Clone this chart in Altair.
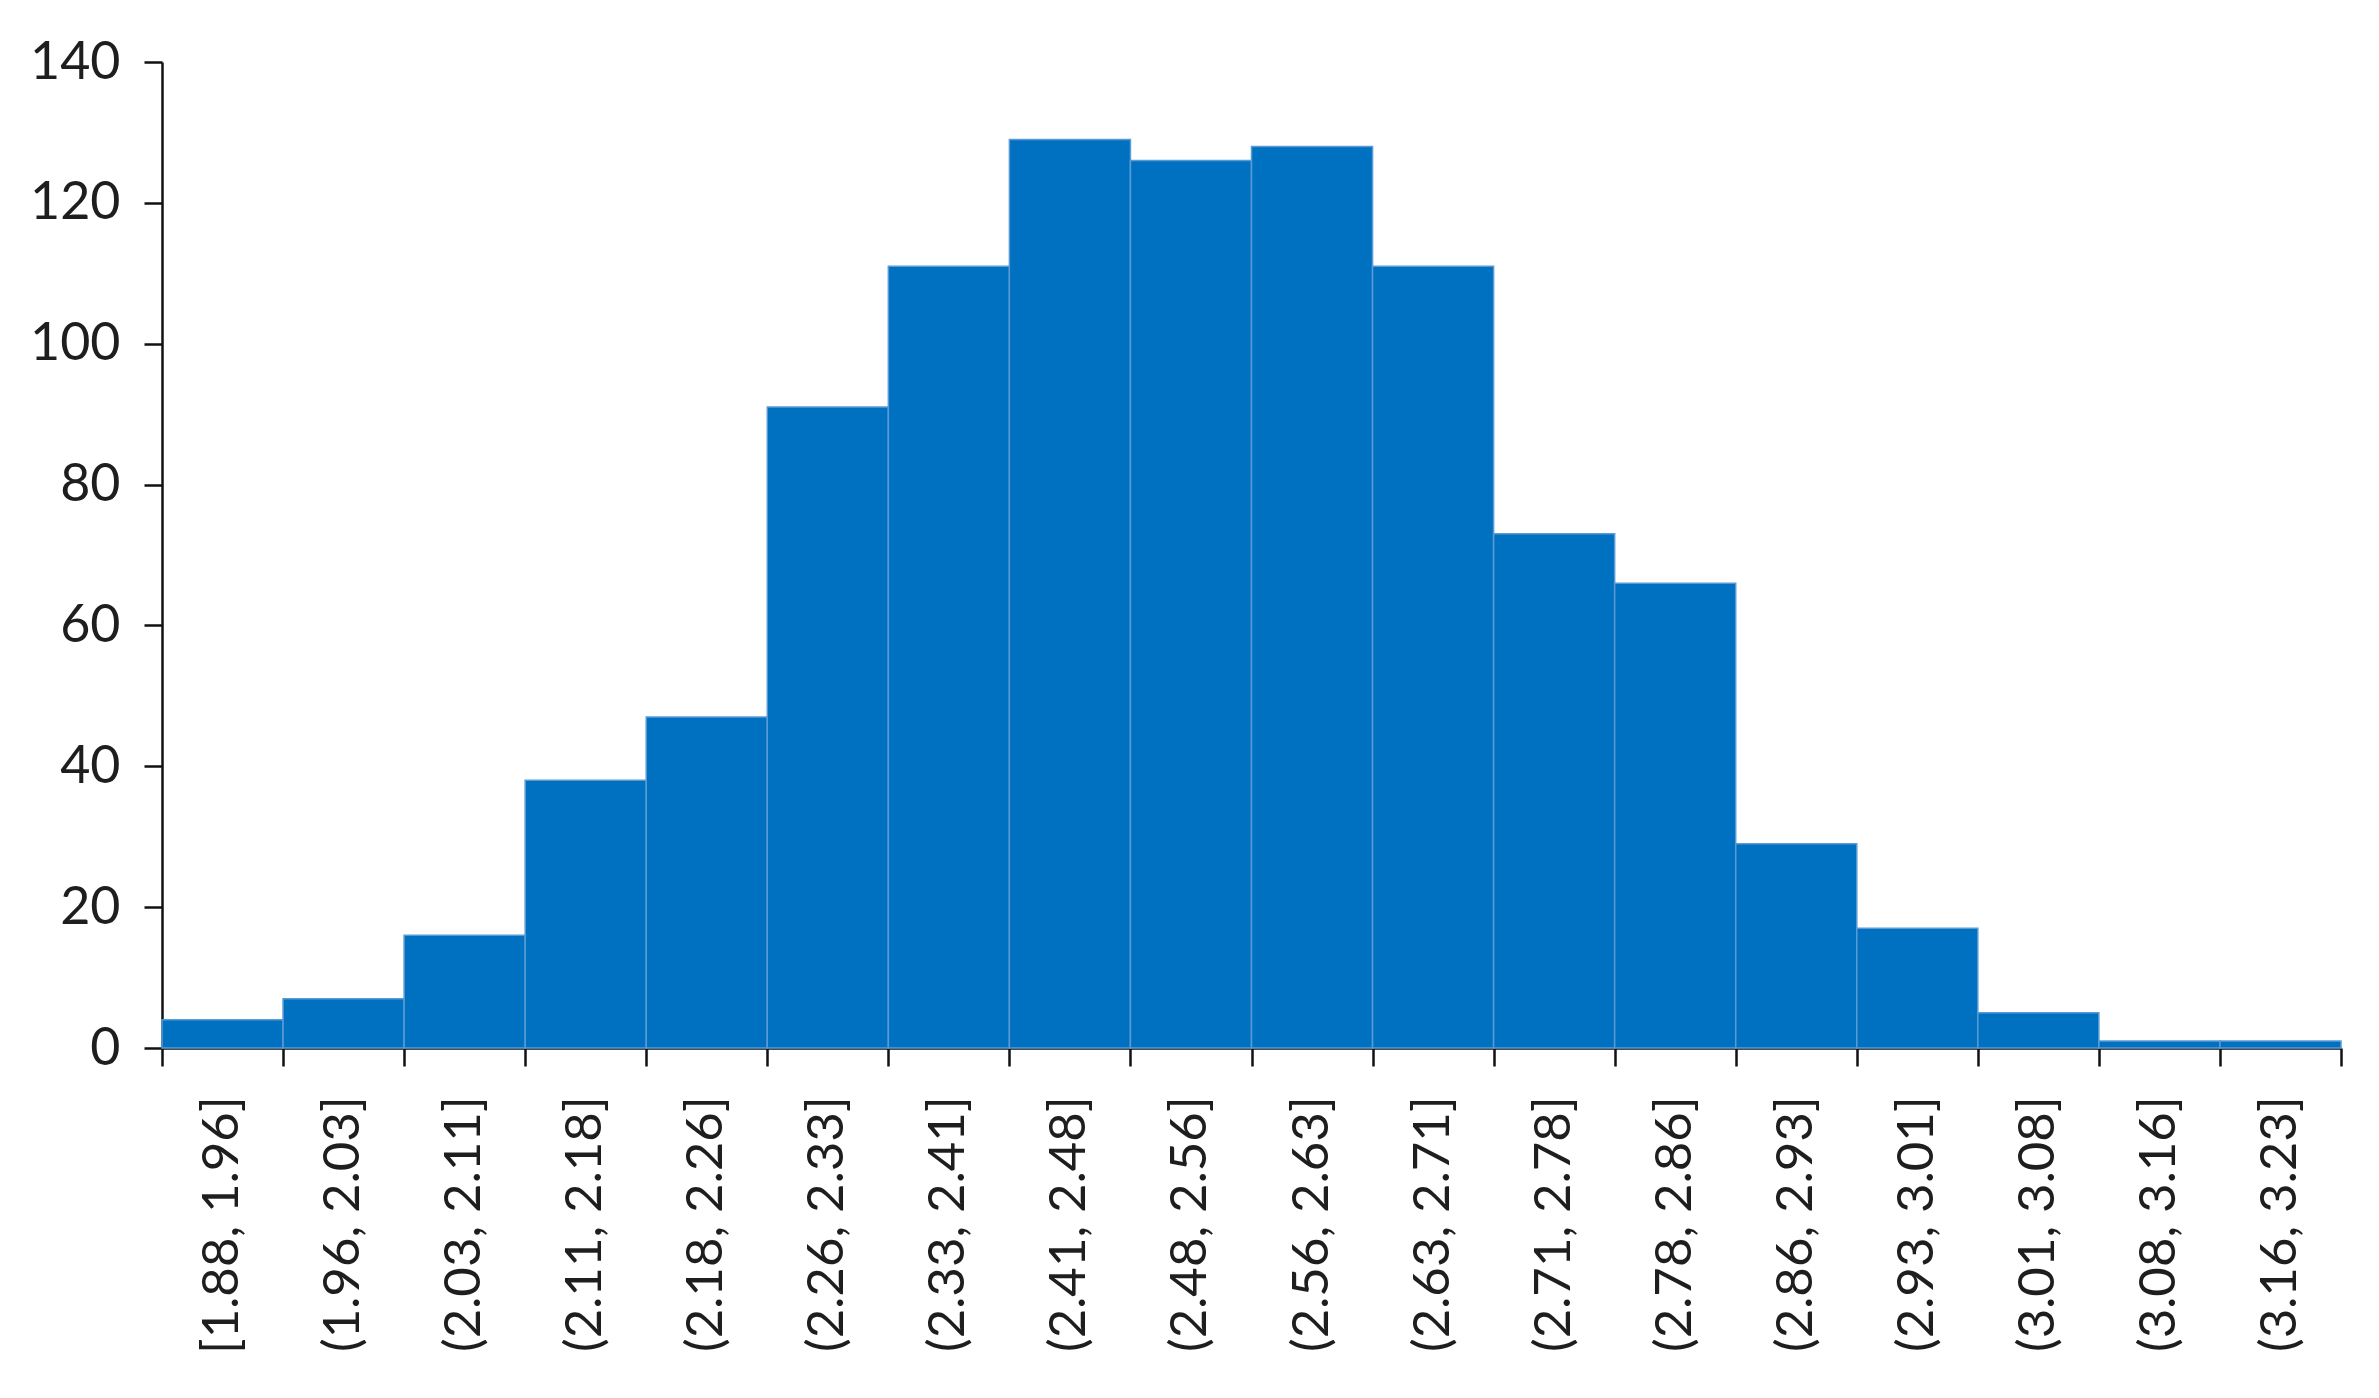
import json
import altair as alt
import pandas as pd

bin_labels = ["[1.88, 1.96]", "(1.96, 2.03]", "(2.03, 2.11]", "(2.11, 2.18]",
              "(2.18, 2.26]", "(2.26, 2.33]", "(2.33, 2.41]", "(2.41, 2.48]",
              "(2.48, 2.56]", "(2.56, 2.63]", "(2.63, 2.71]", "(2.71, 2.78]",
              "(2.78, 2.86]", "(2.86, 2.93]", "(2.93, 3.01]", "(3.01, 3.08]",
              "(3.08, 3.16]", "(3.16, 3.23]"]
counts = [4, 7, 16, 38, 47, 91, 111, 129, 126, 128, 111, 73, 66, 29, 17, 5, 1, 1]
y_ticks = [0, 20, 40, 60, 80, 100, 120, 140]

n = len(bin_labels)
df = pd.DataFrame({
    "start": list(range(n)),
    "end": [i + 1 for i in range(n)],
    "count": counts,
    "label": bin_labels,
})

label_expr = ("datum.value % 1 != 0 ? " + json.dumps(bin_labels)
              + "[floor(datum.value)] : ''")
x_values = [i * 0.5 for i in range(2 * n + 1)]

font = "Lato"
txt = "#1e1e1e"

chart = alt.Chart(df).mark_bar(
    color="#0070C0", stroke="#5B9BD5", strokeWidth=1.5
).encode(
    x=alt.X("start:Q",
            scale=alt.Scale(domain=[0, n], nice=False, zero=False),
            axis=alt.Axis(
                title=None, values=x_values, labelExpr=label_expr,
                labelAngle=-90, labelFontSize=51, labelFont=font,
                labelColor=txt, labelPadding=30, labelOverlap=False,
                labelFlush=False, labelBound=False, labelLimit=0,
                tickSize=18, tickWidth=2.5, tickColor="#111",
                tickOpacity={"condition": {"test": "datum.value % 1 != 0", "value": 0}, "value": 1},
                domainColor="#111", domainWidth=2.5, grid=False)),
    x2="end:Q",
    y=alt.Y("count:Q",
            scale=alt.Scale(domain=[0, 140], nice=False),
            axis=alt.Axis(
                title=None, values=y_ticks, labelFontSize=52, labelFont=font,
                labelColor=txt, labelPadding=24, tickSize=18, tickWidth=2.5,
                tickColor="#111", domainColor="#111", domainWidth=2.5,
                grid=False)),
    y2=alt.datum(0),
).properties(
    width=2179, height=986,
    autosize=alt.AutoSizeParams(type="none"),
    padding={"left": 154, "top": 54, "right": 30, "bottom": 330},
).configure(background="white", view=alt.ViewConfig(stroke=None))

chart.save("out.html", embed_options={"renderer": "svg", "actions": False})
